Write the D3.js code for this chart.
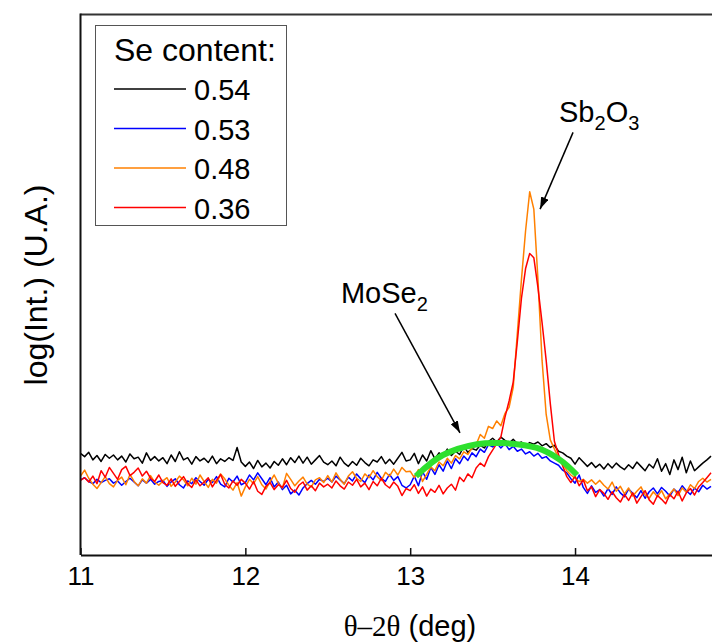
<!DOCTYPE html>
<html lang="en">
<head>
<meta charset="UTF-8">
<title>XRD log intensity</title>
<style>
    body { margin: 0; background: #fff; }
    text { font-family: Arial, "Liberation Sans", sans-serif; fill: #000; }
    .trace { fill: none; stroke-width: 1.5px; stroke-linejoin: round; }
</style>
</head>
<body>
<svg width="712" height="644"></svg>
<script src="https://d3js.org/d3.v7.min.js"></script>
<script>
// 2theta sampling: 11.000 .. 14.825 deg, 0.025 step (154 points)
var twoTheta = d3.range(154).map(function (i) { return 11 + i * 0.025; });

// log(intensity), arbitrary units, one array per Se content
var se054 = [
    18.8, 18.2, 19.0, 17.6, 18.4, 17.3, 18.6, 17.9, 18.5, 17.6, 18.3, 17.2, 18.7, 17.8, 18.1, 17.0, 18.9, 17.5, 18.2, 17.4,
    18.0, 16.9, 18.5, 17.3, 19.1, 17.6, 18.0, 16.8, 18.2, 17.4, 17.9, 17.1, 18.3, 16.9, 17.8, 17.3, 18.0, 17.5, 19.9, 17.2,
    16.4, 17.2, 16.0, 17.5, 16.3, 17.0, 16.1, 17.3, 16.6, 17.8, 16.7, 18.0, 17.1, 18.3, 17.0, 18.1, 16.8, 17.6, 18.4, 17.2,
    16.7, 17.4, 16.5, 18.1, 17.0, 16.4, 17.3, 16.6, 17.9, 17.1, 16.5, 17.6, 17.2, 18.2, 16.9, 17.7, 16.8, 17.9, 19.0, 17.4,
    17.6, 18.8, 16.9, 18.5, 17.4, 19.3, 17.8, 18.9, 18.2, 19.6, 18.4, 19.2, 18.6, 20.1, 19.0, 19.7, 19.4, 20.3, 19.8, 21.0,
    21.6, 20.9, 21.8, 21.2, 20.7, 21.4, 20.6, 20.9, 20.3, 20.8, 20.5, 20.9, 20.2, 20.6, 19.9, 20.3, 19.2, 18.9, 18.3, 17.9,
    16.8, 18.0, 17.2, 16.4, 17.1, 16.2, 16.8, 15.9, 16.9, 16.1, 17.0, 16.3, 15.8, 16.7, 16.0, 17.2, 16.4, 15.6, 16.8, 16.1,
    17.8, 15.5, 16.9, 14.9, 17.6, 15.8, 18.1, 15.2, 17.4, 15.6, 16.3, 17.0, 17.6, 18.3
];
var se053 = [
    13.9, 14.3, 13.6, 13.2, 14.0, 13.4, 13.8, 14.1, 13.3, 13.7, 12.9, 13.6, 14.2, 13.5, 12.8, 13.9, 13.3, 14.0, 13.1, 13.6,
    13.8, 12.7, 13.5, 14.1, 13.0, 12.4, 13.7, 13.2, 14.3, 13.6, 12.9, 14.0, 13.4, 14.5, 13.1, 12.6, 14.2, 13.5, 14.6, 13.0,
    13.4, 14.8, 13.9, 15.2, 14.1, 13.0, 14.3, 12.6, 13.5, 12.1, 12.9, 11.3, 12.0, 11.1, 12.4, 13.2, 13.8, 13.1, 14.0, 13.6,
    14.2, 13.5, 14.6, 13.9, 13.2, 14.4, 13.7, 15.0, 14.1, 13.4, 14.8, 13.9, 15.3, 14.2, 13.6, 14.9, 13.8, 14.5, 12.9, 12.4,
    13.0, 14.6, 12.8, 15.4, 14.0, 16.2, 14.9, 16.7, 15.5, 17.4, 16.0, 17.8, 16.9, 18.3, 17.5, 18.9, 18.2, 19.6, 19.0, 20.4,
    20.0, 20.7, 19.8, 20.6, 19.5, 20.1, 19.2, 19.6, 18.7, 19.1, 18.3, 18.8, 17.9, 18.2, 17.4, 17.0, 16.6, 15.7, 15.2, 14.1,
    13.3, 14.8, 12.5, 11.4, 12.8, 11.6, 12.1, 10.9, 12.3, 11.2, 12.6, 11.5, 10.8, 12.2, 11.4, 10.6, 11.9, 10.5, 11.7, 12.4,
    11.3, 12.5, 11.8, 10.9, 12.2, 11.5, 12.8, 11.9, 11.2, 12.4, 11.7, 12.9, 12.2, 12.7
];
var se048 = [
    14.6, 15.7, 14.2, 13.1, 12.3, 13.4, 14.5, 13.2, 12.6, 13.8, 14.4, 13.0, 14.9, 13.6, 12.8, 14.1, 13.3, 14.7, 13.5, 12.9,
    13.7, 14.3, 12.7, 13.5, 14.6, 13.9, 12.8, 14.2, 13.1, 14.8, 13.6, 12.5, 14.0, 13.3, 15.0, 14.1, 12.9, 12.0, 13.4, 10.9,
    12.6, 14.0, 13.2, 14.5, 13.0, 12.2, 13.6, 14.8, 13.3, 12.4, 15.1, 14.0, 12.8, 13.7, 14.4, 13.1, 12.6, 13.9, 14.3, 13.4,
    14.7, 13.5, 15.2, 14.0, 13.1, 14.6, 15.4, 14.2, 13.6, 15.0, 14.3, 15.6, 14.5, 13.8, 15.3, 14.6, 15.9, 14.8, 16.2, 15.4,
    15.5, 14.3, 15.8, 13.6, 14.9, 16.3, 15.6, 17.2, 16.5, 17.9, 17.0, 18.4, 17.8, 19.1, 18.6, 19.8, 20.4, 22.3, 21.6, 23.8,
    23.4, 24.8, 23.9, 26.2, 27.3, 31.0, 41.0, 51.0, 60.0, 67.2, 64.0, 51.0, 36.0, 26.0, 21.3, 19.6, 18.0, 17.0, 15.6, 14.8,
    14.2, 13.6, 14.0, 13.3, 13.9, 13.1, 13.8, 12.9, 12.2, 13.5, 11.8, 12.7, 11.3, 12.4, 10.9, 11.8, 12.6, 11.1, 10.5, 11.7,
    10.8, 11.9, 10.4, 11.3, 12.2, 11.0, 12.4, 11.6, 13.0, 12.3, 13.6, 14.2, 13.5, 14.0
];
var se036 = [
    13.8, 14.3, 13.5, 14.6, 13.2, 15.6, 14.4, 16.2, 15.1, 14.0, 15.8, 16.4, 14.7, 15.3, 16.1, 14.6, 15.5, 14.2, 13.6, 14.8,
    13.4, 12.9, 14.1, 12.7, 13.6, 14.5, 13.2, 12.5, 13.9, 12.8, 13.5, 14.3, 12.6, 13.8, 14.9, 13.1, 12.4, 13.7, 12.9, 14.0,
    13.3, 12.2, 13.6, 11.8, 11.2, 12.7, 13.4, 12.1, 13.0, 12.5, 13.8, 12.3, 11.6, 12.9, 13.5, 12.0, 12.8, 11.9, 13.3, 12.6,
    13.1, 12.4, 13.7, 12.8, 12.2, 13.5, 12.9, 14.0, 12.6, 13.3, 12.1, 13.6, 12.8, 14.2, 13.0, 12.4, 13.5, 12.7, 11.0, 12.3,
    11.9, 13.0, 11.4, 12.6, 10.9, 12.2, 11.6, 12.9, 11.3, 12.4, 13.1, 12.0, 14.4, 13.6, 15.0, 14.3, 16.1, 17.0, 16.4, 18.2,
    19.4, 20.6, 21.8, 25.5, 28.5, 32.0, 39.5, 47.5, 53.0, 55.8, 55.0, 49.5, 43.0, 36.0, 28.0, 21.0, 18.6, 16.5, 14.5, 13.4,
    14.6, 12.8, 13.9, 11.9, 12.6, 10.8, 12.1, 11.4, 10.3, 11.7, 10.6, 9.8, 11.2, 10.1, 11.5, 9.6, 10.8, 11.9, 10.2, 9.4,
    11.0, 10.3, 9.5, 11.2, 10.4, 11.8, 10.0, 11.5, 12.3, 11.1, 12.6, 13.4, 14.3, 15.2
];

var seLabels = ["0.54", "0.53", "0.48", "0.36"];
var seColors = ["#000000", "#0000ff", "#ff8000", "#ff0000"];
var seSeries = [se054, se053, se048, se036];

// MoSe2 hump guide (green)
var humpX = [13.035, 13.199, 13.405, 13.563, 13.769, 13.909, 14.012];
var humpY = [14.6, 18.5, 20.5, 20.7, 19.8, 17.6, 14.8];

var xTicks = [11, 12, 13, 14];

var svg = d3.select("svg");
var padL = 80.5, padT = 14.5, padB = 555, padR = 713.5;

var x = d3.scaleLinear().domain([11, 14.84]).range([padL, padR]);
var y = d3.scaleLinear().domain([0, 100]).range([padB, padT]);

var line = d3.line()
    .x(function (d) { return x(d[0]); })
    .y(function (d) { return y(d[1]); });

var plot = svg.append("g");
seSeries.forEach(function (s, k) {
    plot.append("path")
        .attr("class", "trace")
        .attr("stroke", seColors[k])
        .attr("d", line(twoTheta.map(function (t, i) { return [t, s[i]]; })));
});

var humpLine = d3.line()
    .x(function (d) { return x(d[0]); })
    .y(function (d) { return y(d[1]); })
    .curve(d3.curveCatmullRom);
plot.append("path")
    .attr("fill", "none")
    .attr("stroke", "#2ee02e")
    .attr("stroke-width", 6)
    .attr("d", humpLine(humpX.map(function (t, i) { return [t, humpY[i]]; })));

// frame
svg.append("line").attr("x1", padL).attr("x2", 712).attr("y1", padT).attr("y2", padT)
    .attr("stroke", "#333").attr("stroke-width", 2);
svg.append("line").attr("x1", padL).attr("x2", padL).attr("y1", padT - 1).attr("y2", padB)
    .attr("stroke", "#111").attr("stroke-width", 2);

var xAxis = svg.append("g")
    .attr("transform", "translate(0," + padB + ")")
    .call(d3.axisBottom(x).tickValues(xTicks).tickFormat(d3.format("d"))
        .tickSizeInner(-7).tickSizeOuter(0).tickPadding(12));
xAxis.attr("font-size", null).attr("font-family", null);
xAxis.select(".domain").attr("stroke", "#111").attr("stroke-width", 2);
xAxis.selectAll(".tick line").attr("stroke", "#111").attr("stroke-width", 1.5);
xAxis.selectAll(".tick text")
    .attr("fill", "#000")
    .style("font-size", "26px");

// axis titles
var xt = svg.append("text")
    .attr("x", 410)
    .attr("y", 636)
    .attr("text-anchor", "middle")
    .style("font-size", "29px");
xt.append("tspan").style("font-family", "'Liberation Serif', 'Times New Roman', serif").text("\u03b8\u20132\u03b8");
xt.append("tspan").text(" (deg)");

svg.append("text")
    .attr("transform", "translate(47,285) rotate(-90)")
    .attr("text-anchor", "middle")
    .style("font-size", "32px")
    .text("log(Int.) (U.A.)");

// legend
var lg = svg.append("g");
lg.append("rect")
    .attr("x", 95.5).attr("y", 25.5).attr("width", 191).attr("height", 200)
    .attr("fill", "#fff").attr("stroke", "#555").attr("stroke-width", 1);
lg.append("text").attr("x", 114).attr("y", 61).style("font-size", "32px").text("Se content:");
seLabels.forEach(function (lab, k) {
    var yy = 89 + k * 39.5;
    lg.append("line").attr("x1", 114).attr("x2", 186).attr("y1", yy).attr("y2", yy)
        .attr("stroke", seColors[k]).attr("stroke-width", 1.5);
    lg.append("text").attr("x", 194).attr("y", yy + 11).style("font-size", "29px").text(lab);
});

// annotations
svg.append("defs").append("marker")
    .attr("id", "head")
    .attr("viewBox", "0 0 12 8")
    .attr("refX", 12).attr("refY", 4)
    .attr("markerWidth", 12).attr("markerHeight", 8)
    .attr("markerUnits", "userSpaceOnUse")
    .attr("orient", "auto")
    .append("path").attr("d", "M0,0 L12,4 L0,8 Z").attr("fill", "#000");

var notes = [
    { parts: [["Sb", 0], ["2", 1], ["O", 0], ["3", 1]], tx: 13.903, ty: 80.2, ax: 13.988, ay: 78.2, bx: 13.788, by: 64.0 },
    { parts: [["MoSe", 0], ["2", 1]], tx: 12.580, ty: 46.6, ax: 12.908, ay: 44.7, bx: 13.302, by: 22.6 }
];
notes.forEach(function (n) {
    var t = svg.append("text").attr("x", x(n.tx)).attr("y", y(n.ty)).style("font-size", "29px");
    var prev = 0;
    n.parts.forEach(function (p) {
        var shift = p[1] ? 8 : 0;
        t.append("tspan").attr("dy", shift - prev).style("font-size", p[1] ? "20px" : "29px").text(p[0]);
        prev = shift;
    });
    svg.append("line")
        .attr("x1", x(n.ax)).attr("y1", y(n.ay)).attr("x2", x(n.bx)).attr("y2", y(n.by))
        .attr("stroke", "#000").attr("stroke-width", 1.5)
        .attr("marker-end", "url(#head)");
});
</script>
</body>
</html>
